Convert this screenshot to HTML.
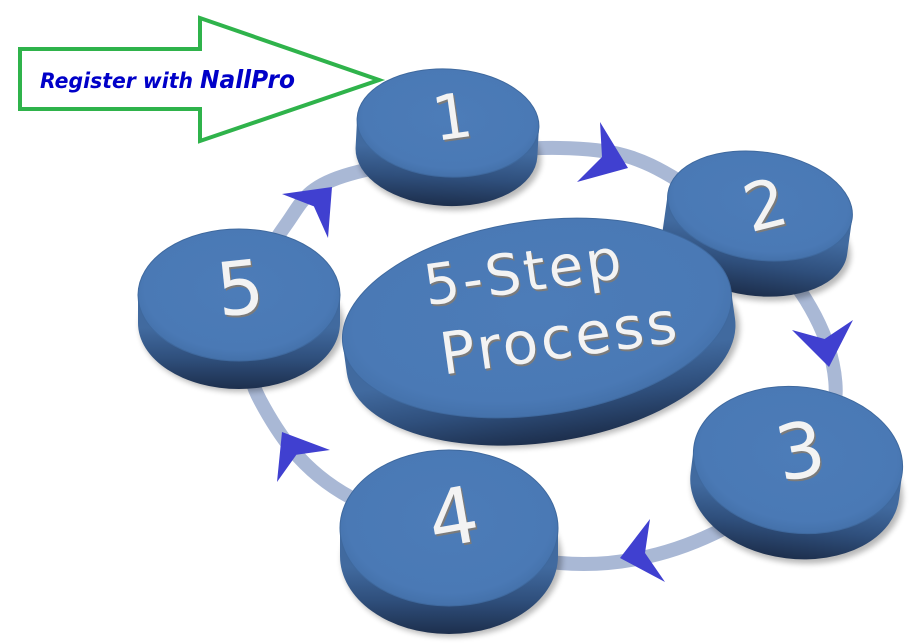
<!DOCTYPE html>
<html><head><meta charset="utf-8">
<style>
html,body{margin:0;padding:0;background:#fff;}
svg{display:block}
</style></head><body>
<svg width="913" height="644" viewBox="0 0 913 644" xmlns="http://www.w3.org/2000/svg">
<defs>
<filter id="sh" x="-20%" y="-30%" width="140%" height="160%"><feGaussianBlur stdDeviation="3"/></filter>
<radialGradient id="face" cx="50%" cy="45%" r="55%">
 <stop offset="0" stop-color="#4c7cb8"/><stop offset="0.85" stop-color="#4a79b5"/><stop offset="1" stop-color="#4471aa"/>
</radialGradient>
<linearGradient id="s1" gradientUnits="userSpaceOnUse" x1="0" y1="150" x2="0" y2="206"><stop offset="0" stop-color="#416a9f"/><stop offset="0.5" stop-color="#2f4f7c"/><stop offset="1" stop-color="#1d2f4d"/></linearGradient>
<linearGradient id="s2" gradientUnits="userSpaceOnUse" x1="0" y1="233" x2="0" y2="296"><stop offset="0" stop-color="#416a9f"/><stop offset="0.5" stop-color="#2f4f7c"/><stop offset="1" stop-color="#1d2f4d"/></linearGradient>
<linearGradient id="s3" gradientUnits="userSpaceOnUse" x1="0" y1="496" x2="0" y2="559"><stop offset="0" stop-color="#416a9f"/><stop offset="0.5" stop-color="#2f4f7c"/><stop offset="1" stop-color="#1d2f4d"/></linearGradient>
<linearGradient id="s4" gradientUnits="userSpaceOnUse" x1="0" y1="567" x2="0" y2="634"><stop offset="0" stop-color="#416a9f"/><stop offset="0.5" stop-color="#2f4f7c"/><stop offset="1" stop-color="#1d2f4d"/></linearGradient>
<linearGradient id="s5" gradientUnits="userSpaceOnUse" x1="0" y1="328" x2="0" y2="389"><stop offset="0" stop-color="#416a9f"/><stop offset="0.5" stop-color="#2f4f7c"/><stop offset="1" stop-color="#1d2f4d"/></linearGradient>
<linearGradient id="sc" gradientUnits="userSpaceOnUse" x1="0" y1="366" x2="0" y2="443"><stop offset="0" stop-color="#416a9f"/><stop offset="0.5" stop-color="#2f4f7c"/><stop offset="1" stop-color="#1d2f4d"/></linearGradient>
</defs>

<!-- Green arrow -->
<polygon points="20,49 200,49 200,18 379,80 200,141 200,109 20,109" fill="#fff" stroke="#2fb34b" stroke-width="4" stroke-linejoin="miter"/>
<text x="40" y="88" font-family="DejaVu Sans, Liberation Sans, sans-serif" font-weight="bold" font-style="italic" font-size="21" fill="#0000c8" textLength="153" lengthAdjust="spacingAndGlyphs">Register with</text>
<text x="200" y="88" font-family="DejaVu Sans, Liberation Sans, sans-serif" font-weight="bold" font-style="italic" font-size="25" fill="#0000c8" textLength="95" lengthAdjust="spacingAndGlyphs">NallPro</text>

<!-- Ring -->
<path d="M560 148 C614.8 149.2 638 155.7 679 181 C720 206.3 780.8 259.3 806 300 C831.2 340.7 843.8 386.8 830 425 C816.2 463.2 768 506 723 529 C678 552 622.2 568.3 560 563 C497.8 557.7 400 524.2 350 497 C300 469.8 276.7 431.2 260 400 C243.3 368.8 245.8 339 250 310 C254.2 281 268.3 248.7 285 226 C301.7 203.3 304.2 187 350 174 C395.8 161 505.2 146.8 560 148 Z" fill="none" stroke="#a9b8d5" stroke-width="14"/>

<!-- Arrowheads -->
<g fill="#4040d0">
<polygon points="600,122 628,168 577,182 602,157"/>
<polygon points="792,330 824.6,339 853,320 829,367"/>
<polygon points="650,519 645,553 665,582 620,558"/>
<polygon points="330,450 296.4,454.8 277,482 282,432"/>
<polygon points="282,194 313.9,206.4 328,238 332,187"/>
</g>

<!-- Disk 1 -->
<g transform="rotate(3 448 123)">
<ellipse cx="451" cy="156" rx="92" ry="54" fill="#000" opacity="0.28" filter="url(#sh)"/>
<path d="M357 123 L357 152 A91 54 0 0 0 539 152 L539 123 Z" fill="url(#s1)"/>
<ellipse cx="448" cy="123" rx="91" ry="54" fill="url(#face)" stroke="#3f699e" stroke-width="1"/>
</g>
<!-- Disk 2 -->
<g transform="rotate(8 760 206)">
<ellipse cx="763" cy="246" rx="94" ry="54" fill="#000" opacity="0.28" filter="url(#sh)"/>
<path d="M667 206 L667 242 A93 54 0 0 0 853 242 L853 206 Z" fill="url(#s2)"/>
<ellipse cx="760" cy="206" rx="93" ry="54" fill="url(#face)" stroke="#3f699e" stroke-width="1"/>
</g>
<!-- Disk 3 -->
<g transform="rotate(7 798 460)">
<ellipse cx="801" cy="490" rx="106" ry="73" fill="#000" opacity="0.28" filter="url(#sh)"/>
<path d="M693 460 L693 486 A105 73 0 0 0 903 486 L903 460 Z" fill="url(#s3)"/>
<ellipse cx="798" cy="460" rx="105" ry="73" fill="url(#face)" stroke="#3f699e" stroke-width="1"/>
</g>
<!-- Disk 4 -->
<g>
<ellipse cx="452" cy="559" rx="110" ry="78" fill="#000" opacity="0.28" filter="url(#sh)"/>
<path d="M340 528 L340 556 A109 78 0 0 0 558 556 L558 528 Z" fill="url(#s4)"/>
<ellipse cx="449" cy="528" rx="109" ry="78" fill="url(#face)" stroke="#3f699e" stroke-width="1"/>
</g>
<!-- Disk 5 -->
<g>
<ellipse cx="242" cy="326" rx="102" ry="66" fill="#000" opacity="0.28" filter="url(#sh)"/>
<path d="M138 295 L138 323 A101 66 0 0 0 340 323 L340 295 Z" fill="url(#s5)"/>
<ellipse cx="239" cy="295" rx="101" ry="66" fill="url(#face)" stroke="#3f699e" stroke-width="1"/>
</g>
<!-- Center -->
<g transform="rotate(-8 537 318)">
<ellipse cx="540" cy="349" rx="197" ry="97" fill="#000" opacity="0.28" filter="url(#sh)"/>
<path d="M341 318 L341 346 A196 97 0 0 0 733 346 L733 318 Z" fill="url(#sc)"/>
<ellipse cx="537" cy="318" rx="196" ry="97" fill="url(#face)" stroke="#3f699e" stroke-width="1"/>
</g>

<!-- Digits -->
<g font-family="DejaVu Sans, Liberation Sans, sans-serif" text-anchor="middle">
<g transform="rotate(-8 452 116)">
<text x="453.2" y="140.7" font-size="62" fill="#7b7b7b">1</text>
<text x="452" y="138.5" font-size="62" fill="#f3f3f3">1</text>
</g>
<g transform="rotate(-14 765 204)">
<text x="766.2" y="230.2" font-size="66" fill="#7b7b7b">2</text>
<text x="765" y="228" font-size="66" fill="#f3f3f3">2</text>
</g>
<g transform="rotate(-10 800 450)">
<text x="801.2" y="479.7" font-size="76" fill="#7b7b7b">3</text>
<text x="800" y="477.5" font-size="76" fill="#f3f3f3">3</text>
</g>
<g transform="rotate(-10 453 516)">
<text x="454.2" y="546.7" font-size="78" fill="#7b7b7b">4</text>
<text x="453" y="544.5" font-size="78" fill="#f3f3f3">4</text>
</g>
<g transform="rotate(-6 240 287)">
<text x="241.2" y="316.2" font-size="74" fill="#7b7b7b">5</text>
<text x="240" y="314" font-size="74" fill="#f3f3f3">5</text>
</g>
<g transform="rotate(-8 525 280)">
<text x="526.2" y="293.5" font-size="56" letter-spacing="3" fill="#7b7b7b">5-Step</text>
<text x="525" y="291.3" font-size="56" letter-spacing="3" fill="#f3f3f3">5-Step</text>
</g>
<g transform="rotate(-8 560 340)">
<text x="561.2" y="360.2" font-size="58" letter-spacing="3" fill="#7b7b7b">Process</text>
<text x="560" y="358" font-size="58" letter-spacing="3" fill="#f3f3f3">Process</text>
</g>
</g>
</svg>
</body></html>
